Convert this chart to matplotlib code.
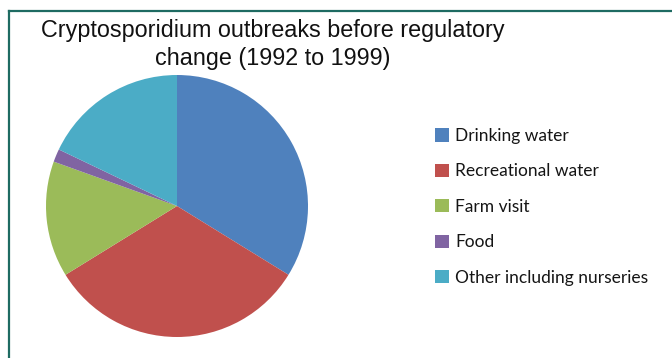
import matplotlib
matplotlib.use("Agg")
import matplotlib.pyplot as plt
from matplotlib.lines import Line2D

categories = ["Drinking water", "Recreational water", "Farm visit", "Food",
              "Other including nurseries"]
values = [33.8, 32.4, 14.3, 1.6, 17.9]
colors = ["#4F81BD", "#C0504D", "#9BBB59", "#8064A2", "#4BACC6"]
title_lines = ["Cryptosporidium outbreaks before regulatory",
               "change (1992 to 1999)"]

W, H = 672, 358
fig = plt.figure(figsize=(W / 100, H / 100), dpi=100)
fig.patch.set_facecolor("white")

# border lines (top and left)
border = "#1E6B62"
fig.add_artist(Line2D([9 / W, 1], [1 - 10.5 / H, 1 - 10.5 / H], color=border, lw=1.6,
                      transform=fig.transFigure))
fig.add_artist(Line2D([9 / W, 9 / W], [0, 1 - 10.5 / H], color=border, lw=1.6,
                      transform=fig.transFigure))

cx, cy, r = 177, 206, 131
ax = fig.add_axes([(cx - r) / W, (H - cy - r) / H, 2 * r / W, 2 * r / H])
wedges, _ = ax.pie(values, colors=colors, startangle=90, counterclock=False,
                   radius=1, wedgeprops=dict(linewidth=0))
ax.set_xlim(-1, 1)
ax.set_ylim(-1, 1)
ax.set_aspect("equal")
ax.axis("off")

fig.text(273 / W, 1 - 37 / H, title_lines[0], ha="center", va="baseline",
         fontsize=16.8, family="Liberation Sans", color="#111111")
fig.text(273 / W, 1 - 64.5 / H, title_lines[1], ha="center", va="baseline",
         fontsize=16.8, family="Liberation Sans", color="#111111")

leg = fig.legend(wedges, categories, loc="upper left",
                 bbox_to_anchor=(428 / W, 1 - 121 / H), borderaxespad=0,
                 frameon=False, handlelength=0.8, handleheight=0.8,
                 handletextpad=0.35, labelspacing=1.12,
                 prop=dict(family="Lato", size=12.5))
for t in leg.get_texts():
    t.set_color("#151515")

fig.savefig("out.png", dpi=100, facecolor="white")
